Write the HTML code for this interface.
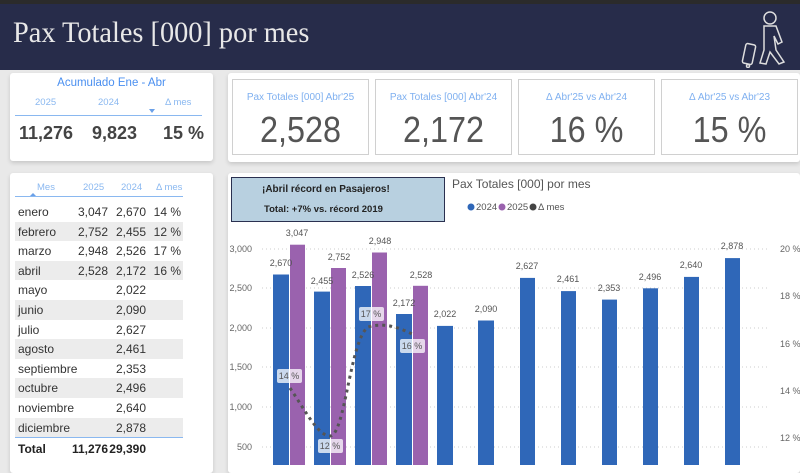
<!DOCTYPE html>
<html><head><meta charset="utf-8"><style>
*{margin:0;padding:0;box-sizing:border-box}
body{width:800px;height:465px;overflow:hidden;background:#e9e9e9;font-family:"Liberation Sans",sans-serif;position:relative}
.a{position:absolute;white-space:nowrap}
.card{position:absolute;background:#fff;box-shadow:0 2px 4px rgba(0,0,0,.15);border-radius:3px}
.kpi{position:absolute;top:79px;width:137px;height:76px;border:1px solid #d0d0d0;background:#fff;text-align:center}
.kpi .t{color:#7fb0f0;font-size:10px;margin-top:12px}
.kpi .v{color:#555;font-size:36px;margin-top:6px;font-family:"Liberation Sans",sans-serif;transform:scaleX(.9)}
.r{position:absolute;left:5px;width:168px;height:19.6px;font-size:12px;color:#333;white-space:nowrap}
.r.s{background:#ececec}
.r span{position:absolute;top:3px}
.r .c1{left:3px}.r .c2{right:75px}.r .c3{right:37px}.r .c4{right:2px}
</style></head><body>
<div class="a" style="left:0;top:0;width:800px;height:4px;background:#2b2b2b"></div>
<div class="a" style="left:0;top:4px;width:800px;height:66px;background:#272c4a"></div>
<div class="a" style="left:13px;top:17px;color:#e8e8e8;font-family:'Liberation Serif',serif;font-size:29.5px;transform:scaleX(.96);transform-origin:left">Pax Totales [000] por mes</div>
<svg class="a" style="left:740px;top:10px" width="50" height="58" viewBox="0 0 50 58" fill="none" stroke="#ddd" stroke-width="1.5">
<circle cx="30" cy="8" r="6"/><path d="M24 16 L36 16 L42 32 L38 34 L34 26 L36 40 L44 52 L39 54 L30 42 L26 54 L20 53 L24 40 L24 24 Z"/><rect x="4" y="34" width="10" height="20" rx="2" transform="rotate(12 9 44)"/><circle cx="8" cy="56" r="1.5"/>
</svg>
<div class="card" style="left:10px;top:73px;width:203px;height:88px">
<div class="a" style="left:0;width:203px;top:4px;text-align:center;color:#4a8ff0;font-size:11.5px">Acumulado Ene - Abr</div>
<div class="a" style="left:25px;top:24px;color:#8ab8f0;font-size:9.5px">2025</div>
<div class="a" style="left:88px;top:24px;color:#8ab8f0;font-size:9.5px">2024</div>
<div class="a" style="left:155px;top:24px;color:#8ab8f0;font-size:9.5px">Δ mes</div>
<div class="a" style="left:139px;top:36px;width:0;height:0;border-left:3px solid transparent;border-right:3px solid transparent;border-top:4px solid #6aa0e8"></div>
<div class="a" style="left:5px;top:42px;width:187px;height:1px;background:#8ab8f0"></div>
<div class="a" style="left:9px;top:50px;color:#444;font-size:18px;font-weight:bold">11,276</div>
<div class="a" style="left:82px;top:50px;color:#444;font-size:18px;font-weight:bold">9,823</div>
<div class="a" style="left:153px;top:50px;color:#444;font-size:18px;font-weight:bold">15 %</div>
</div>
<div class="card" style="left:228px;top:73px;width:572px;height:89px"></div>
<div class="kpi" style="left:232px"><div class="t">Pax Totales [000] Abr'25</div><div class="v">2,528</div></div>
<div class="kpi" style="left:375px"><div class="t">Pax Totales [000] Abr'24</div><div class="v">2,172</div></div>
<div class="kpi" style="left:518px"><div class="t">Δ Abr'25 vs Abr'24</div><div class="v">16 %</div></div>
<div class="kpi" style="left:661px"><div class="t">Δ Abr'25 vs Abr'23</div><div class="v">15 %</div></div>
<div class="card" style="left:10px;top:173px;width:203px;height:300px">
<div class="a" style="left:5px;top:6px;width:168px;height:18px;border-bottom:1px solid #8ab8f0;font-size:9.5px;color:#8ab8f0">
<span class="a" style="left:22px;top:3px">Mes</span><span class="a" style="left:68px;top:3px">2025</span><span class="a" style="left:106px;top:3px">2024</span><span class="a" style="left:141px;top:3px">Δ mes</span>
<span class="a" style="left:15px;top:14px;width:0;height:0;border-left:3px solid transparent;border-right:3px solid transparent;border-bottom:3px solid #6aa0e8"></span></div>
<div class="r" style="top:29px"><span class="c1">enero</span><span class="c2">3,047</span><span class="c3">2,670</span><span class="c4">14 %</span></div>
<div class="r s" style="top:48.6px"><span class="c1">febrero</span><span class="c2">2,752</span><span class="c3">2,455</span><span class="c4">12 %</span></div>
<div class="r" style="top:68.2px"><span class="c1">marzo</span><span class="c2">2,948</span><span class="c3">2,526</span><span class="c4">17 %</span></div>
<div class="r s" style="top:87.8px"><span class="c1">abril</span><span class="c2">2,528</span><span class="c3">2,172</span><span class="c4">16 %</span></div>
<div class="r" style="top:107.4px"><span class="c1">mayo</span><span class="c3">2,022</span></div>
<div class="r s" style="top:127px"><span class="c1">junio</span><span class="c3">2,090</span></div>
<div class="r" style="top:146.6px"><span class="c1">julio</span><span class="c3">2,627</span></div>
<div class="r s" style="top:166.2px"><span class="c1">agosto</span><span class="c3">2,461</span></div>
<div class="r" style="top:185.8px"><span class="c1">septiembre</span><span class="c3">2,353</span></div>
<div class="r s" style="top:205.4px"><span class="c1">octubre</span><span class="c3">2,496</span></div>
<div class="r" style="top:225px"><span class="c1">noviembre</span><span class="c3">2,640</span></div>
<div class="r s" style="top:244.6px"><span class="c1">diciembre</span><span class="c3">2,878</span></div>
<div class="a" style="left:5px;top:264px;width:168px;height:1px;background:#8ab8f0"></div>
<div class="r" style="top:266px;font-weight:bold;color:#222"><span class="c1">Total</span><span class="c2">11,276</span><span class="c3">29,390</span></div>
</div>
<div class="card" style="left:228px;top:173px;width:572px;height:300px"></div>
<svg class="a" style="left:0;top:0" width="800" height="465" font-family="Liberation Sans, sans-serif">
<g stroke="#ccc" stroke-dasharray="1 3"><line x1="262" x2="770" y1="249" y2="249"/><line x1="262" x2="770" y1="288" y2="288"/><line x1="262" x2="770" y1="328" y2="328"/><line x1="262" x2="770" y1="367" y2="367"/><line x1="262" x2="770" y1="407" y2="407"/><line x1="262" x2="770" y1="447" y2="447"/></g>
<g font-size="9" fill="#666" text-anchor="end"><text x="252" y="252">3,000</text><text x="252" y="291">2,500</text><text x="252" y="331">2,000</text><text x="252" y="370">1,500</text><text x="252" y="410">1,000</text><text x="252" y="450">500</text></g>
<g font-size="9" fill="#666"><text x="780" y="252">20 %</text><text x="780" y="299">18 %</text><text x="780" y="347">16 %</text><text x="780" y="394">14 %</text><text x="780" y="441">12 %</text></g>
<text x="452" y="188" font-size="12" fill="#555">Pax Totales [000] por mes</text>
<g font-size="9.5" fill="#555"><circle cx="471" cy="207" r="3.5" fill="#2f67b8"/><text x="476" y="210">2024</text><circle cx="502" cy="207" r="3.5" fill="#9a62ae"/><text x="507" y="210">2025</text><circle cx="533" cy="207" r="3.5" fill="#444"/><text x="538" y="210">Δ mes</text></g>
<g fill="#2f67b8">
<rect x="273" y="274.5" width="16" height="191"/><rect x="314" y="291.6" width="16" height="174"/><rect x="355" y="286" width="16" height="180"/><rect x="396" y="314" width="16" height="152"/><rect x="437" y="325.9" width="16" height="140"/><rect x="478" y="320.5" width="16" height="145"/><rect x="520" y="277.9" width="15" height="188"/><rect x="561" y="291.1" width="15" height="175"/><rect x="602" y="299.6" width="15" height="166"/><rect x="643" y="288.3" width="15" height="177"/><rect x="684" y="276.9" width="15" height="189"/><rect x="725" y="258.1" width="15" height="207"/></g>
<g fill="#9a62ae"><rect x="290" y="244.7" width="15" height="221"/><rect x="331" y="268" width="15" height="198"/><rect x="372" y="252.5" width="15" height="213"/><rect x="413" y="285.8" width="15" height="180"/></g>
<g font-size="9" fill="#555" text-anchor="middle">
<text x="281" y="266">2,670</text><text x="297" y="236">3,047</text><text x="322" y="284">2,455</text><text x="339" y="260">2,752</text><text x="363" y="278">2,526</text><text x="380" y="244">2,948</text><text x="404" y="306">2,172</text><text x="421" y="278">2,528</text><text x="445" y="317">2,022</text><text x="486" y="312">2,090</text><text x="527" y="269">2,627</text><text x="568" y="282">2,461</text><text x="609" y="291">2,353</text><text x="650" y="280">2,496</text><text x="691" y="268">2,640</text><text x="732" y="249">2,878</text></g>
<path d="M290 388 C305 410 318 436 330 436 C345 436 350 340 368 327 C385 322 400 328 412 334" fill="none" stroke="#555" stroke-width="3" stroke-dasharray="3 4"/>
<g font-size="9" fill="#555" text-anchor="middle">
<rect x="277" y="369" width="25" height="14" rx="2" fill="#fff" fill-opacity=".75"/><text x="289" y="379">14 %</text>
<rect x="318" y="439" width="25" height="14" rx="2" fill="#fff" fill-opacity=".75"/><text x="330" y="449">12 %</text>
<rect x="359" y="307" width="25" height="14" rx="2" fill="#fff" fill-opacity=".75"/><text x="371" y="317">17 %</text>
<rect x="400" y="339" width="25" height="14" rx="2" fill="#fff" fill-opacity=".75"/><text x="412" y="349">16 %</text></g>
</svg>
<div class="a" style="left:231px;top:177px;width:214px;height:45px;background:#b8d0e0;border:1.5px solid #2a3050;font-family:'Liberation Sans',sans-serif;font-weight:bold;color:#222">
<div class="a" style="left:30px;top:6px;font-size:10px">¡Abril récord en Pasajeros!</div>
<div class="a" style="left:32px;top:26px;font-size:9.5px">Total: +7% vs. récord 2019</div></div>
</body></html>
